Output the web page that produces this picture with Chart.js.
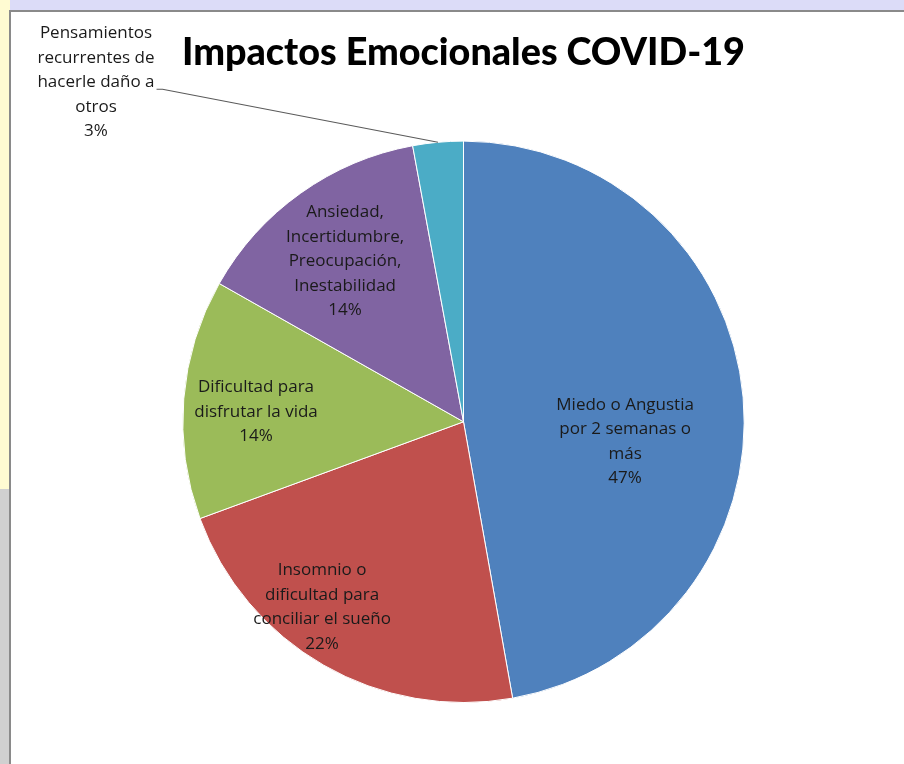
<!DOCTYPE html>
<html lang="es">
<head>
  <meta charset="UTF-8">
  <title>Impactos Emocionales COVID-19</title>
  <script src="https://cdn.jsdelivr.net/npm/chart.js"></script>
  <style>
    body { margin: 0; width: 904px; height: 764px; overflow: hidden; background: #dcdcf8; position: relative; }
    .side { position: absolute; left: 0; top: 0; width: 10px; height: 764px; background: linear-gradient(#fffbd2 0, #fffbd2 64%, #d0d0d0 64%, #d0d0d0 100%); }
    .frame { position: absolute; left: 9px; top: 10px; width: 920px; height: 780px; border: 2px solid #8a8a8a; background: #fff; }
    canvas { position: absolute; left: 0; top: 0; }
  </style>
</head>
<body>
  <div class="side"></div>
  <div class="frame">
    <canvas id="pieChart" width="893" height="752"></canvas>
  </div>

<script>
// datos
const categorias = [
  "Miedo o Angustia por 2 semanas o más",
  "Insomnio o dificultad para conciliar el sueño",
  "Dificultad para disfrutar la vida",
  "Ansiedad, Incertidumbre, Preocupación, Inestabilidad",
  "Pensamientos recurrentes de hacerle daño a otros"
];
const porcentajes = [47.2, 22.2, 13.8, 13.9, 2.9];
// líneas de cada etiqueta (como en Excel)
const lineasEtiqueta = [
  ["Miedo o Angustia", "por 2 semanas o", "más"],
  ["Insomnio o", "dificultad para", "conciliar el sueño"],
  ["Dificultad para", "disfrutar la vida"],
  ["Ansiedad,", "Incertidumbre,", "Preocupación,", "Inestabilidad"],
  ["Pensamientos", "recurrentes de", "hacerle daño a", "otros"]
];
const colores = ["#4f81bd", "#c0504d", "#9bbb59", "#8064a2", "#4bacc6"];

// posición de etiqueta: giro (grados) respecto al ángulo medio y fracción del radio
const posEtiqueta = [
  { giro: 12, r: 0.58 },
  { giro: 7.5, r: 0.83 },
  { giro: -2, r: 0.74 },
  { giro: -1, r: 0.71 },
  { fuera: true, dx: -342, dy: -60 }
];

const etiquetasPlugin = {
  id: "etiquetas",
  afterDatasetsDraw(chart) {
    const ctx = chart.ctx;
    const meta = chart.getDatasetMeta(0);
    ctx.save();
    ctx.font = "17px 'Open Sans', sans-serif";
    ctx.fillStyle = "#1a1a1a";
    ctx.textAlign = "center";
    ctx.textBaseline = "middle";
    const lh = 24.5;
    meta.data.forEach((arc, i) => {
      const p = arc.getProps(["x", "y", "startAngle", "endAngle", "outerRadius"], true);
      const mid = (p.startAngle + p.endAngle) / 2;
      const lines = lineasEtiqueta[i].concat([Math.round(porcentajes[i]) + "%"]);
      const pos = posEtiqueta[i];
      let cx, cy;
      if (pos.fuera) {
        const ex = p.x + Math.cos(mid) * p.outerRadius;
        const ey = p.y + Math.sin(mid) * p.outerRadius;
        cx = ex + pos.dx;
        cy = ey + pos.dy;
        // línea guía
        const w = ctx.measureText(lines[2]).width;
        const lx = cx + w / 2 + 2;
        const ly = cy - (lines.length - 1) * lh / 2 + 2 * lh + 7;
        ctx.strokeStyle = "#5a5a5a";
        ctx.lineWidth = 1.2;
        ctx.beginPath();
        ctx.moveTo(lx, ly);
        ctx.lineTo(lx + 6, ly);
        ctx.lineTo(ex, ey);
        ctx.stroke();
      } else {
        const a = mid + pos.giro * Math.PI / 180;
        cx = p.x + Math.cos(a) * p.outerRadius * pos.r;
        cy = p.y + Math.sin(a) * p.outerRadius * pos.r;
      }
      const top = cy - (lines.length - 1) * lh / 2;
      lines.forEach((t, k) => ctx.fillText(t, cx, top + k * lh));
    });
    ctx.restore();
  }
};

new Chart(document.getElementById("pieChart"), {
  type: "pie",
  data: {
    labels: categorias,
    datasets: [{
      data: porcentajes,
      backgroundColor: colores,
      borderColor: "#ffffff",
      borderWidth: 1
    }]
  },
  options: {
    responsive: false,
    animation: false,
    layout: { padding: { left: 171, right: 159, top: 0, bottom: 61 } },
    plugins: {
      legend: { display: false },
      tooltip: { enabled: false },
      title: {
        display: true,
        text: "Impactos Emocionales COVID-19",
        color: "#000",
        font: { family: "Lato, 'DejaVu Sans', sans-serif", size: 38, weight: 900, lineHeight: 1.2 },
        padding: { top: 18, bottom: 65 }
      }
    }
  },
  plugins: [etiquetasPlugin]
});
</script>
</body>
</html>
